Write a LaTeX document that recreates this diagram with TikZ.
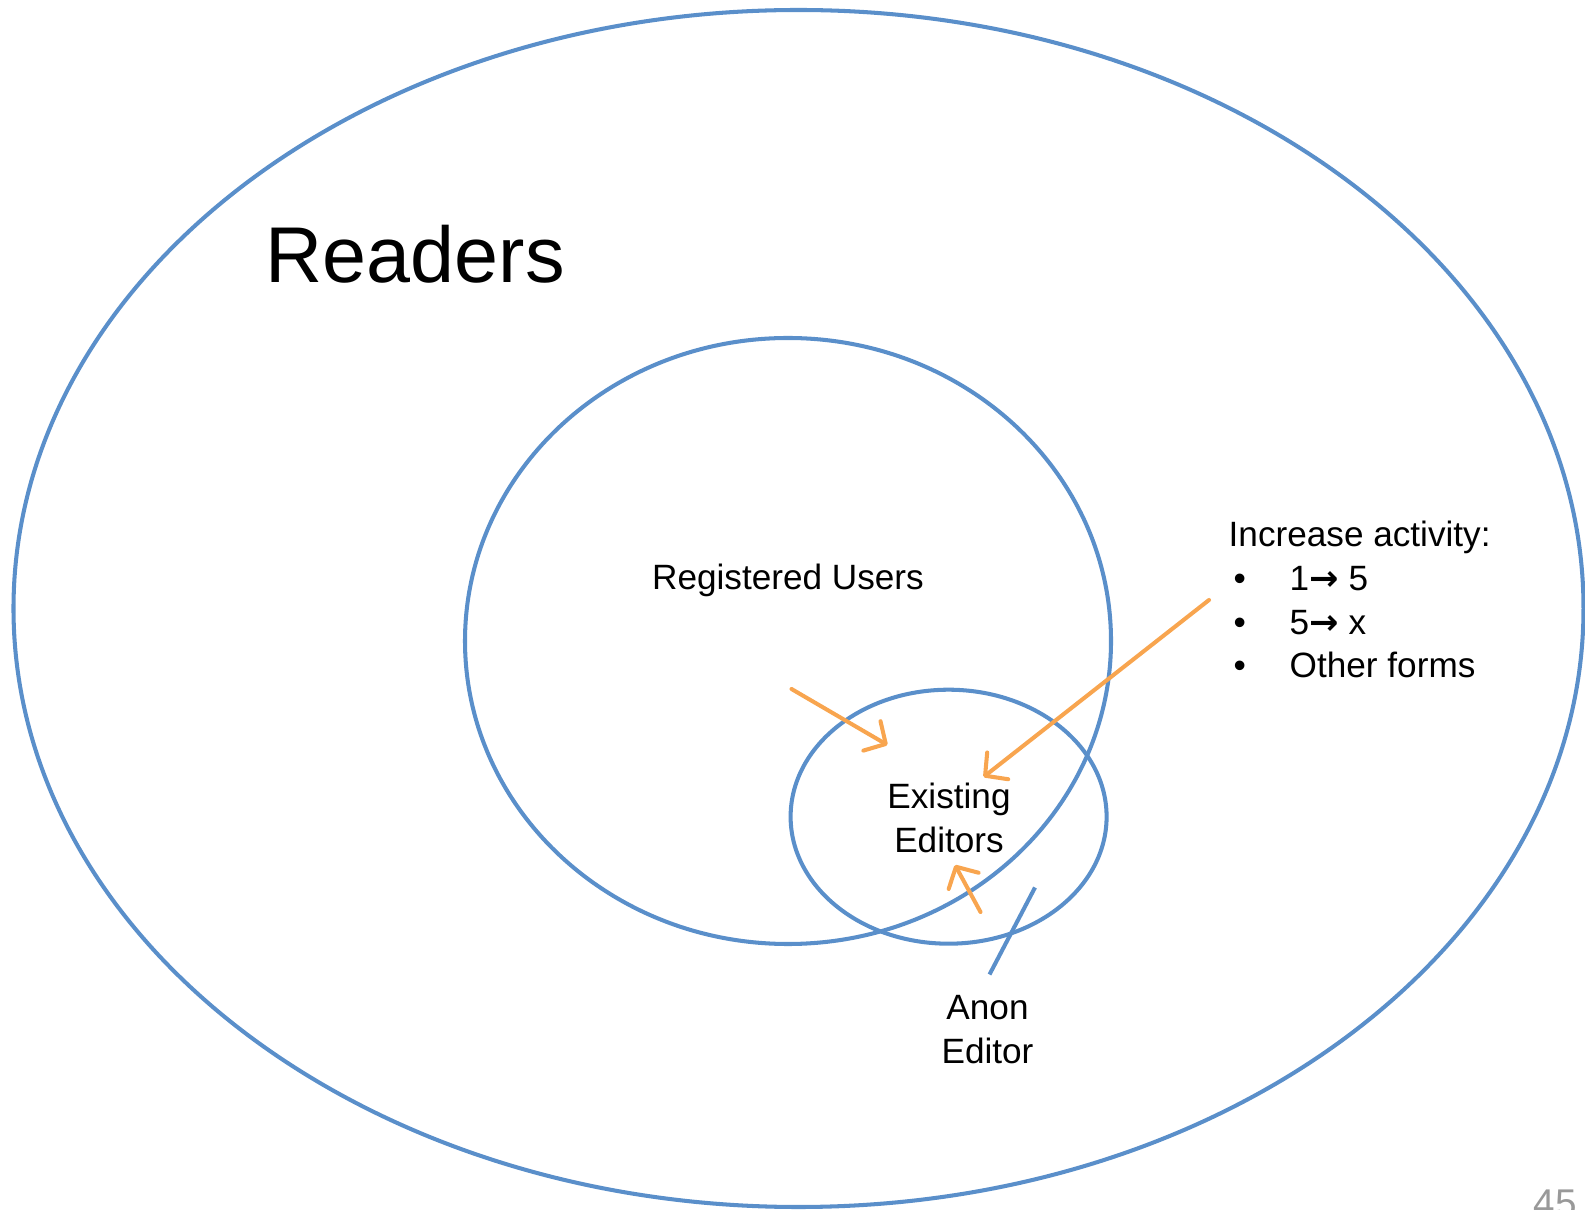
\documentclass[tikz,border=0pt]{standalone}
\usepackage{fontspec}
\setmainfont{Liberation Sans}
\newfontfamily\arrowfont{DejaVu Sans}
\usetikzlibrary{arrows.meta}
\definecolor{setblue}{HTML}{5A8FCA}
\definecolor{pushorange}{HTML}{F8A54F}
\newcommand{\bul}{\makebox[0.61cm][l]{\hspace{0.05cm}\textbullet}}
\newcommand{\goes}{{\arrowfont\bfseries →}}

\begin{document}
\begin{tikzpicture}[x=0.01cm, y=-0.01cm, font=\fontsize{10}{12.5}\selectfont,
  set/.style={draw=setblue, line width=1.15pt},
  push/.style={draw=pushorange, line width=1.15pt, line cap=round, -{Straight Barb[length=1.6mm, width=3.4mm, round]}},
  lbl/.style={inner sep=0pt, align=center}]
\clip (0,0) rectangle (1585,1210);
\coordinate (rd) at (798.5,608.5);
\coordinate (ru) at (788,641);
\coordinate (ed) at (948.6,816.7);
\draw[set] (rd) ellipse [x radius=785, y radius=598.5];
\draw[set] (ru) ellipse [x radius=323, y radius=303];
\draw[set] (ed) ellipse [x radius=158, y radius=127];
\node[lbl, anchor=base west, font=\fontsize{22.5}{27}\selectfont] (readers) at (265,283) {Readers};
\node[lbl, anchor=base] (users) at (788,590) {Registered Users};
\node[lbl] (editors) at (949,818) {Existing\\Editors};
\node[lbl] (anon) at (987.5,1030) {Anon\\Editor};
\node[lbl, anchor=base west, align=left] (activity) at (1228,678) {Increase activity:\\
  \bul 1\goes\ 5\\
  \bul 5\goes\ x\\
  \bul Other forms};
\node[lbl, anchor=base west, text=gray!80, font=\fontsize{11}{13}\selectfont] (page) at (1533,1216) {45};
\coordinate (fromusers) at (791.5,689);
\coordinate (tousers) at (887.5,745);
\coordinate (fromact) at (1209,600);
\coordinate (toact) at (983.5,777);
\coordinate (fromanon) at (980.5,912);
\coordinate (toanon) at (955,865);
\coordinate (slashtop) at (1035,887.5);
\coordinate (slashbot) at (989.5,974.5);
\draw[push] (fromusers) -- (tousers);
\draw[push] (fromact) -- (toact);
\draw[push] (fromanon) -- (toanon);
\draw[set] (slashtop) -- (slashbot);
\end{tikzpicture}
\end{document}
